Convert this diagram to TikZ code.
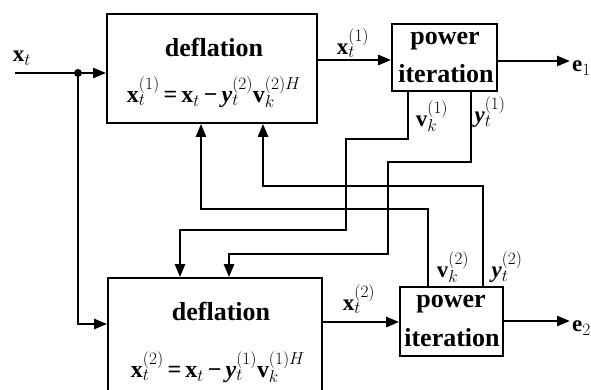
\documentclass[tikz,border=0pt]{standalone}
\usepackage{fontspec}
\setmainfont{Liberation Serif}
\usetikzlibrary{arrows.meta}
\newcommand{\bx}{\textbf{x}}
\newcommand{\bv}{\textbf{v}}
\newcommand{\iy}{\textbf{\textit{y}}}
\begin{document}
\begin{tikzpicture}[x=1pt,y=-1pt,
  box/.style={draw,line width=1.8pt,inner sep=0pt},
  conn/.style={line width=2.6pt},
  arr/.style={conn,-{Triangle[length=13pt,width=10pt]}},
  ttl/.style={font=\fontsize{26}{29}\selectfont\bfseries,inner sep=0pt},
  eqn/.style={font=\fontsize{24}{27}\selectfont\bfseries,inner sep=0pt},
  lbl/.style={font=\fontsize{23}{26}\selectfont\bfseries,inner sep=0pt}]
\useasboundingbox (0,0) rectangle (591,390);
% boxes
\node[box,minimum width=210pt,minimum height=109pt] (td) at (212,68.5) {};
\node[box,minimum width=105pt,minimum height=67pt] (tp) at (444.5,57.5) {};
\node[box,minimum width=214pt,minimum height=118pt] (bd) at (215,337) {};
\node[box,minimum width=103pt,minimum height=69pt] (bp) at (451.5,321.5) {};
% box texts
\node[ttl] (tdt) at (214,47) {deflation};
\node[eqn] (tde) at (214,92) {\bx$_t^{(1)}$\,=\,\bx$_t$\,−\,\iy$_t^{(2)}$\bv$_k^{(2)H}$};
\node[ttl] (tpt1) at (445,41) {power};
\node[ttl] (tpt2) at (446,74) {iteration};
\node[ttl] (bdt) at (221,311) {deflation};
\node[eqn] (bde) at (218,367) {\bx$_t^{(2)}$\,=\,\bx$_t$\,−\,\iy$_t^{(1)}$\bv$_k^{(1)H}$};
\node[ttl] (bpt1) at (451,304) {power};
\node[ttl] (bpt2) at (452,338) {iteration};
% input
\coordinate (in) at (15,73);
\coordinate (dot) at (78,73);
\node[lbl] (xin) at (22,58) {\bx$_t$};
\draw[arr] (in) -- (td.west |- in);
\fill (dot) circle (4pt);
\draw[arr] (dot) |- (bd.west |- 0,324);
% top chain
\draw[arr] (td.east |- 0,60) -- (tp.west |- 0,60);
\node[lbl] (x1) at (353,43) {\bx$_t^{(1)}$};
\coordinate (e1end) at (570,61);
\draw[arr] (tp.east |- e1end) -- (e1end);
\node[lbl,anchor=west] (e1) at (572,68) {\textbf{e}$_1$};
% bottom chain
\draw[arr] (bd.east |- 0,322) -- (bp.west |- 0,322);
\node[lbl] (x2) at (359,299) {\bx$_t^{(2)}$};
\coordinate (e2end) at (570,321);
\draw[arr] (bp.east |- e2end) -- (e2end);
\node[lbl,anchor=west] (e2) at (572,328) {\textbf{e}$_2$};
% feedback labels
\node[lbl] (v1) at (432,116) {\bv$_k^{(1)}$};
\node[lbl] (y1) at (490,112) {\iy$_t^{(1)}$};
\node[lbl] (v2) at (453,267) {\bv$_k^{(2)}$};
\node[lbl] (y2) at (507,267) {\iy$_t^{(2)}$};
% feedback routes
\draw[arr] (tp.south -| 408,0) -- (408,139) -- (346,139) -- (346,230) -- (180,230) -- (bd.north -| 180,0);
\draw[arr] (tp.south -| 471,0) -- (471,162) -- (388,162) -- (388,254) -- (229,254) -- (bd.north -| 229,0);
\draw[arr] (bp.north -| 428,0) -- (428,209) -- (201,209) -- (td.south -| 201,0);
\draw[arr] (bp.north -| 483,0) -- (483,186) -- (263,186) -- (td.south -| 263,0);
\end{tikzpicture}
\end{document}
